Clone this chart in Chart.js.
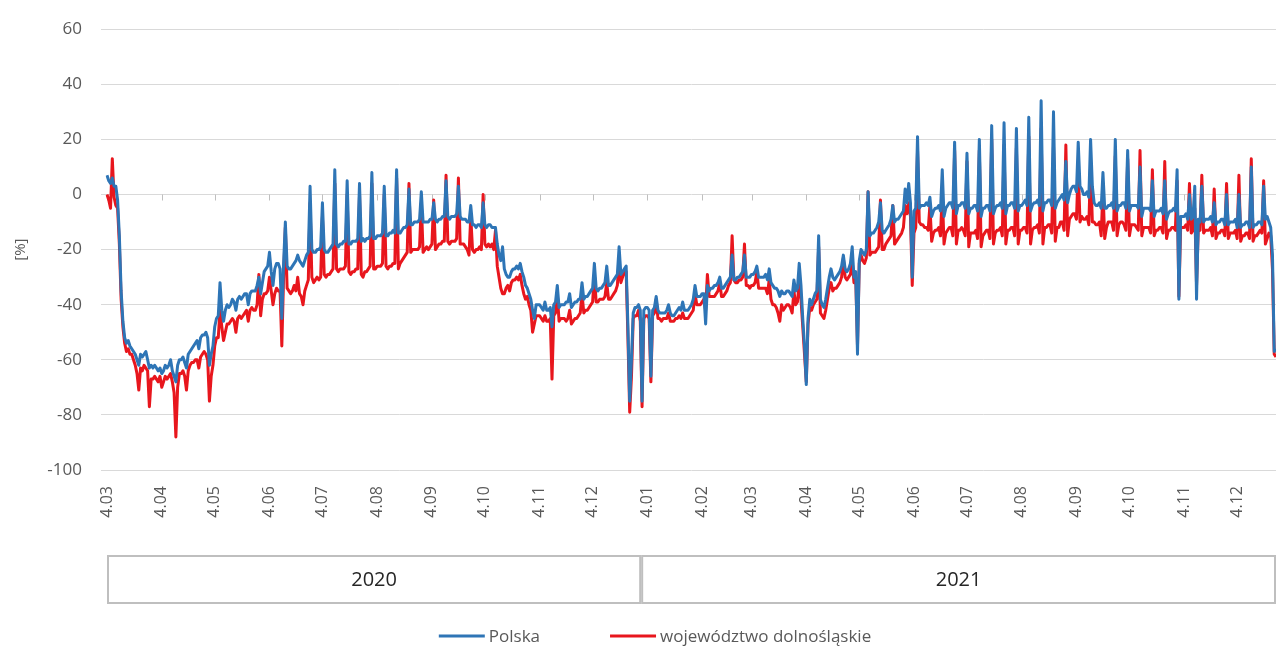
<!DOCTYPE html>
<html lang="pl">
<head>
<meta charset="UTF-8">
<title>Mobilność - Polska i województwo dolnośląskie</title>
<script src="https://cdn.jsdelivr.net/npm/chart.js@4.4.3/dist/chart.umd.min.js"></script>
<style>
  html, body { margin: 0; padding: 0; background: #ffffff; }
</style>
</head>
<body>
<canvas id="mobilityChart" width="1276" height="646"></canvas>
<script>
// daily values from 2020-03-04, one line = one week (Wed..Tue)
const firstDay = '2020-03-04';
const seriesNames = ['Polska', 'województwo dolnośląskie'];
const years = ['2020', '2021'];

const polska = [
  7, 5, 4, 6, 3, 3, -2,
  -15, -35, -46, -52, -54, -53, -55,
  -56, -57, -58, -60, -62, -58, -59,
  -58, -57, -60, -63, -62, -63, -62,
  -63, -64, -63, -65, -64, -62, -63,
  -62, -60, -64, -66, -68, -62, -60,
  -60, -59, -61, -63, -58, -57, -56,
  -55, -54, -53, -56, -52, -51, -51,
  -50, -52, -62, -58, -55, -48, -45,
  -44, -32, -42, -46, -42, -40, -41,
  -40, -38, -39, -42, -38, -37, -38,
  -37, -36, -36, -40, -36, -35, -35,
  -35, -33, -30, -36, -32, -28, -27,
  -26, -21, -28, -33, -27, -25, -25,
  -27, -45, -25, -10, -26, -27, -27,
  -26, -25, -24, -22, -24, -25, -26,
  -24, -22, -21, 3, -20, -21, -21,
  -20, -20, -19, -3, -20, -21, -21,
  -20, -19, -18, 9, -18, -19, -18,
  -18, -17, -17, 5, -18, -18, -17,
  -17, -17, -16, 4, -17, -16, -17,
  -16, -16, -15, 8, -16, -16, -15,
  -15, -15, -14, 3, -15, -15, -14,
  -14, -13, -14, 9, -14, -14, -13,
  -12, -12, -11, 2, -11, -11, -10,
  -10, -10, -9, 1, -10, -10, -10,
  -10, -9, -9, -3, -9, -10, -9,
  -9, -8, -8, 5, -8, -9, -8,
  -8, -8, -7, 3, -8, -9, -9,
  -9, -10, -10, -4, -11, -11, -12,
  -11, -11, -12, -3, -11, -12, -11,
  -11, -12, -12, -12, -18, -22, -24,
  -19, -27, -29, -30, -30, -28, -27,
  -27, -26, -27, -25, -28, -30, -33,
  -34, -36, -38, -42, -45, -40, -40,
  -40, -41, -42, -39, -42, -42, -41,
  -48, -40, -39, -33, -41, -40, -40,
  -40, -39, -39, -36, -41, -40, -39,
  -39, -38, -38, -32, -38, -37, -37,
  -36, -35, -34, -25, -34, -35, -34,
  -34, -33, -32, -26, -33, -33, -32,
  -31, -30, -29, -19, -29, -28, -27,
  -26, -48, -75, -60, -43, -41, -41,
  -40, -42, -75, -42, -41, -41, -42,
  -66, -42, -41, -37, -42, -43, -43,
  -43, -43, -42, -40, -43, -44, -44,
  -43, -42, -41, -42, -39, -42, -42,
  -42, -41, -40, -38, -33, -37, -37,
  -37, -36, -36, -47, -33, -35, -34,
  -34, -33, -33, -32, -30, -34, -34,
  -33, -32, -31, -30, -22, -31, -31,
  -30, -30, -29, -28, -22, -30, -30,
  -30, -29, -29, -28, -26, -30, -30,
  -30, -30, -29, -31, -27, -32, -33,
  -34, -34, -35, -37, -35, -36, -36,
  -35, -35, -36, -37, -31, -35, -34,
  -25, -33, -45, -55, -69, -45, -38,
  -40, -38, -36, -35, -15, -38, -40,
  -41, -38, -34, -30, -27, -30, -31,
  -30, -29, -28, -26, -22, -27, -28,
  -27, -25, -19, -30, -28, -58, -24,
  -20, -21, -22, -20, 1, -15, -14,
  -14, -13, -12, -10, -3, -13, -14,
  -13, -12, -11, -9, -4, -10, -9,
  -9, -8, -7, -6, 2, -3, 4,
  -3, -30, -6, -5, 21, -5, -4,
  -4, -4, -3, -4, -1, -8, -6,
  -5, -5, -4, -6, 9, -8, -5,
  -4, -3, -3, -5, 19, -7, -4,
  -4, -3, -3, -5, 15, -7, -5,
  -5, -4, -4, -6, 20, -8, -5,
  -5, -4, -4, -6, 25, -7, -5,
  -4, -4, -3, -5, 26, -7, -4,
  -4, -3, -3, -5, 24, -6, -4,
  -4, -3, -2, -4, 28, -6, -4,
  -3, -3, -2, -4, 34, -6, -3,
  -3, -2, -2, -4, 30, -5, -3,
  -2, -1, 0, -2, 12, -3, 0,
  2, 3, 3, 1, 19, 3, 2,
  0, 0, 1, -1, 20, 3, -3,
  -4, -4, -3, -5, 8, -5, -5,
  -4, -4, -3, -5, 20, -6, -4,
  -4, -3, -3, -5, 16, -6, -4,
  -4, -4, -4, -5, 10, -8, -5,
  -5, -5, -5, -6, 5, -8, -6,
  -6, -6, -5, -7, 5, -9, -7,
  -6, -6, -5, -6, 9, -38, -8,
  -8, -8, -7, -9, 0, -9, -8,
  3, -38, -9, -10, 3, -10, -9,
  -9, -9, -8, -10, -3, -11, -10,
  -10, -9, -9, -11, 0, -11, -10,
  -10, -10, -9, -12, 0, -12, -11,
  -11, -10, -10, -12, 10, -12, -11,
  -11, -10, -10, -11, 3, -9, -8,
  -10, -12, -22, -57, -56
];

const dolnoslaskie = [
  0, -2, -5, 13, -1, -4, -5,
  -18, -38, -48, -54, -57, -56, -58,
  -58, -60, -62, -65, -71, -63, -64,
  -62, -63, -64, -77, -67, -67, -66,
  -67, -68, -66, -70, -68, -66, -67,
  -66, -65, -68, -72, -88, -70, -65,
  -65, -64, -66, -71, -64, -62, -61,
  -61, -60, -60, -63, -59, -58, -57,
  -58, -60, -75, -66, -62, -55, -52,
  -52, -42, -48, -53, -50, -47, -47,
  -46, -45, -46, -50, -45, -44, -45,
  -44, -43, -42, -46, -42, -41, -42,
  -42, -40, -29, -44, -38, -36, -36,
  -35, -30, -35, -40, -36, -34, -35,
  -35, -55, -30, -12, -34, -35, -36,
  -35, -33, -35, -30, -36, -37, -40,
  -35, -33, -31, -3, -30, -32, -31,
  -30, -31, -30, -8, -29, -30, -29,
  -29, -28, -27, 4, -27, -28, -27,
  -27, -27, -26, 0, -28, -29, -28,
  -28, -27, -27, 0, -29, -30, -28,
  -28, -27, -26, 4, -27, -27, -26,
  -26, -26, -25, 0, -26, -27, -26,
  -26, -25, -25, 6, -27, -25, -24,
  -23, -22, -21, 4, -21, -20, -20,
  -20, -20, -19, -3, -21, -20, -19,
  -20, -19, -18, -2, -20, -19, -18,
  -18, -17, -17, 7, -17, -18, -17,
  -17, -17, -16, 6, -18, -18, -18,
  -19, -20, -22, -8, -20, -21, -20,
  -20, -19, -20, 0, -18, -19, -18,
  -19, -18, -20, -13, -26, -30, -34,
  -36, -36, -34, -33, -35, -32, -31,
  -31, -30, -31, -29, -33, -36, -38,
  -37, -40, -42, -50, -47, -44, -44,
  -44, -45, -46, -44, -46, -46, -45,
  -67, -44, -43, -36, -46, -45, -45,
  -45, -46, -45, -42, -47, -46, -45,
  -45, -44, -43, -36, -43, -42, -42,
  -41, -40, -39, -29, -39, -39, -38,
  -38, -38, -37, -32, -38, -38, -37,
  -36, -35, -33, -24, -32, -30, -28,
  -28, -52, -79, -66, -45, -44, -44,
  -42, -46, -77, -45, -44, -44, -45,
  -68, -44, -43, -38, -45, -45, -46,
  -45, -45, -45, -43, -46, -46, -46,
  -45, -45, -44, -45, -43, -45, -45,
  -45, -44, -43, -42, -36, -40, -40,
  -40, -39, -38, -42, -29, -37, -37,
  -37, -37, -36, -35, -32, -37, -37,
  -36, -35, -33, -32, -15, -31, -32,
  -32, -31, -31, -30, -18, -33, -33,
  -34, -33, -33, -32, -28, -34, -34,
  -34, -34, -34, -36, -31, -38, -40,
  -40, -41, -43, -46, -40, -42, -41,
  -40, -40, -41, -43, -35, -40, -39,
  -32, -38, -48, -58, -68, -47, -41,
  -42, -40, -39, -38, -19, -43, -44,
  -45, -42, -38, -34, -32, -35, -34,
  -34, -33, -32, -30, -23, -30, -31,
  -30, -29, -24, -32, -30, -55, -25,
  -22, -24, -25, -23, 1, -22, -21,
  -21, -21, -20, -19, -2, -20, -20,
  -18, -17, -16, -15, -4, -18, -17,
  -16, -15, -14, -12, -4, -7, -3,
  -8, -33, -14, -12, 16, -10, -11,
  -11, -12, -12, -13, -4, -17, -14,
  -13, -13, -12, -15, 1, -18, -14,
  -13, -12, -12, -15, 16, -18, -13,
  -13, -12, -13, -15, 12, -19, -14,
  -14, -14, -13, -16, 16, -19, -15,
  -14, -13, -13, -16, 20, -18, -14,
  -13, -13, -12, -15, 18, -18, -13,
  -13, -12, -12, -15, 17, -18, -13,
  -13, -12, -12, -14, 21, -18, -13,
  -12, -12, -11, -14, 24, -18, -12,
  -12, -11, -11, -14, 18, -17, -12,
  -12, -10, -10, -13, 18, -15, -9,
  -8, -7, -7, -9, 10, -10, -8,
  -9, -9, -8, -11, 11, -10, -10,
  -11, -11, -10, -15, 2, -16, -12,
  -10, -10, -10, -13, 14, -15, -11,
  -10, -10, -11, -13, 13, -15, -11,
  -11, -11, -12, -13, 16, -15, -12,
  -12, -12, -12, -14, 9, -15, -13,
  -13, -12, -12, -14, 12, -16, -13,
  -13, -12, -12, -13, 5, -37, -12,
  -12, -12, -11, -13, 4, -14, -13,
  -5, -33, -12, -13, 7, -14, -13,
  -13, -13, -12, -15, 2, -16, -14,
  -14, -13, -13, -15, 4, -16, -14,
  -14, -14, -13, -16, 7, -17, -15,
  -15, -14, -14, -16, 13, -17, -15,
  -15, -14, -13, -14, 5, -18, -16,
  -14, -15, -27, -58, -59
];

// one date per value
const start = new Date(firstDay + 'T00:00:00Z');
const days = polska.map((v, i) => new Date(start.getTime() + i * 86400000));
const labels = days.map(d => d.toISOString().slice(0, 10));

const FONT = "'Open Sans', sans-serif";
const GREY_TXT = '#595959';
const colors = ['#2e75b6', '#e8161d'];

// small tick marks on the 0 line, year boxes under the axis and the legend
const extras = {
  id: 'extras',
  beforeDatasetsDraw(chart) {
    const { ctx, scales: { x, y } } = chart;
    const y0 = y.getPixelForValue(0);
    ctx.save();
    ctx.strokeStyle = '#bfbfbf';
    ctx.lineWidth = 1;
    ctx.beginPath();
    days.forEach((d, i) => {
      if (d.getUTCDate() !== 4) return;
      const px = Math.round(x.getPixelForValue(i)) + 0.5;
      ctx.moveTo(px, y0);
      ctx.lineTo(px, y0 + 6);
    });
    ctx.stroke();
    ctx.restore();
  },
  afterDraw(chart) {
    const { ctx, chartArea, scales: { x } } = chart;
    const top = x.top + 86;
    const h = 47;
    ctx.save();
    let from = chartArea.left;
    years.forEach(yr => {
      const next = days.findIndex(d => d.getUTCFullYear() > +yr);
      const to = next < 0 ? chartArea.right
        : (x.getPixelForValue(next - 1) + x.getPixelForValue(next)) / 2;
      ctx.strokeStyle = '#bfbfbf';
      ctx.lineWidth = 2;
      ctx.strokeRect(from + 1, top, to - from - 2, h);
      ctx.fillStyle = '#262626';
      ctx.font = '20px ' + FONT;
      ctx.textAlign = 'center';
      ctx.textBaseline = 'middle';
      ctx.fillText(yr, (from + to) / 2, top + h / 2 + 1);
      from = to;
    });

    // legend
    ctx.font = '17px ' + FONT;
    ctx.textBaseline = 'middle';
    ctx.textAlign = 'left';
    const sample = 46, gap = 4, between = 70;
    const widths = chart.data.datasets.map(ds => ctx.measureText(ds.label).width);
    const total = widths.reduce((a, w) => a + sample + gap + w, 0) + between * (widths.length - 1);
    let lx = 655 - total / 2;
    const ly = 636;
    chart.data.datasets.forEach((ds, i) => {
      ctx.strokeStyle = ds.borderColor;
      ctx.lineWidth = 3;
      ctx.beginPath();
      ctx.moveTo(lx, ly);
      ctx.lineTo(lx + sample, ly);
      ctx.stroke();
      ctx.fillStyle = GREY_TXT;
      ctx.fillText(ds.label, lx + sample + gap, ly + 1);
      lx += sample + gap + widths[i] + between;
    });
    ctx.restore();
  }
};

new Chart(document.getElementById('mobilityChart'), {
  type: 'line',
  data: {
    labels: labels,
    datasets: [
      { label: seriesNames[0], data: polska, borderColor: colors[0], backgroundColor: colors[0] },
      { label: seriesNames[1], data: dolnoslaskie, borderColor: colors[1], backgroundColor: colors[1] }
    ]
  },
  options: {
    responsive: false,
    animation: false,
    layout: { padding: { top: 22, right: 0, bottom: 0, left: 0 } },
    elements: {
      line: { borderWidth: 3, tension: 0, borderJoinStyle: 'round' },
      point: { radius: 0 }
    },
    plugins: {
      legend: { display: false },
      tooltip: { enabled: false }
    },
    scales: {
      x: {
        type: 'category',
        offset: false,
        grid: { display: false, drawTicks: false },
        border: { display: false },
        ticks: {
          autoSkip: false,
          minRotation: 90,
          maxRotation: 90,
          padding: 16,
          color: GREY_TXT,
          font: { family: FONT, size: 16 },
          callback: function (val, i) {
            const d = days[i];
            if (d.getUTCDate() !== 4) return '';
            return '4.' + String(d.getUTCMonth() + 1).padStart(2, '0');
          }
        },
        afterFit: function (s) {
          s.height = 176;
          s.paddingLeft = 0;
          s.paddingRight = 0;
        }
      },
      y: {
        min: -100,
        max: 60,
        ticks: {
          stepSize: 20,
          padding: 19,
          color: GREY_TXT,
          font: { family: FONT, size: 17 }
        },
        grid: { color: '#d9d9d9', tickLength: 6, lineWidth: 1 },
        border: { display: false },
        title: {
          display: true,
          text: '[%]',
          color: GREY_TXT,
          font: { family: FONT, size: 15 },
          padding: { top: 12, bottom: 0 }
        },
        afterFit: function (s) { s.width = 107; }
      }
    }
  },
  plugins: [extras]
});
</script>
</body>
</html>
